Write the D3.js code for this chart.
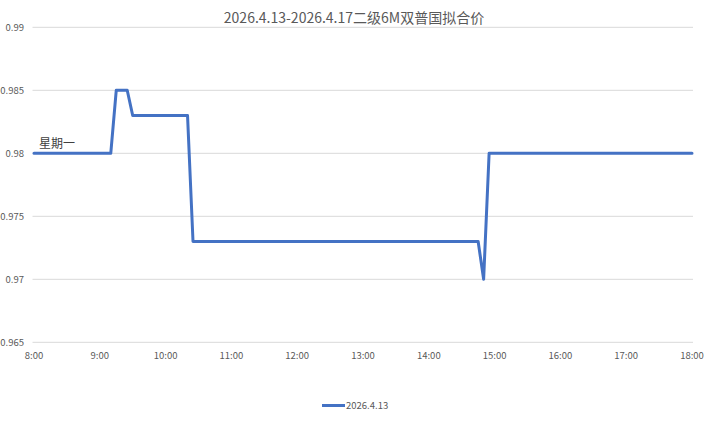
<!DOCTYPE html>
<html>
<head>
<meta charset="utf-8">
<script src="https://cdn.jsdelivr.net/npm/d3@7"></script>
<style>
  body { margin: 0; background: #fff; }
  text { font-family: "Noto Sans CJK SC", "Open Sans", sans-serif; }
</style>
</head>
<body>
<div id="chart"></div>
<script>
// minutes after midnight at 5-minute steps
var times = [480, 550, 555, 565, 570, 620, 625, 885, 890, 895, 1080];
var prices = [0.98, 0.98, 0.985, 0.985, 0.983, 0.983, 0.973, 0.973, 0.97, 0.98, 0.98];
var yTicks = [0.965, 0.97, 0.975, 0.98, 0.985, 0.99];
var xTicks = [480, 540, 600, 660, 720, 780, 840, 900, 960, 1020, 1080];
var title = "2026.4.13-2026.4.17二级6M双普国拟合价";
var seriesName = "2026.4.13";
var dayLabel = "星期一";

var width = 709, height = 421;
var svg = d3.select("#chart").append("svg")
  .attr("width", width)
  .attr("height", height);

var x = d3.scaleLinear().domain([480, 1080]).range([34, 692]);
var y = d3.scaleLinear().domain([0.965, 0.99]).range([342.3, 27.3]);

// gridlines
svg.append("g").selectAll("line")
  .data(yTicks)
  .enter().append("line")
  .attr("x1", 32.5)
  .attr("x2", 693)
  .attr("y1", function (d) { return y(d); })
  .attr("y2", function (d) { return y(d); })
  .attr("stroke", "#d9d9d9")
  .attr("stroke-width", 1);

// y labels
svg.append("g").selectAll("text")
  .data(yTicks)
  .enter().append("text")
  .attr("x", 24)
  .attr("y", function (d) { return y(d) + 3.5; })
  .attr("text-anchor", "end")
  .attr("font-size", 9.5)
  .attr("fill", "#595959")
  .text(function (d) { return d3.format("")(+d.toFixed(3)); });

// x labels
function fmtTime(m) {
  return Math.floor(m / 60) + ":" + d3.format("02d")(m % 60);
}
svg.append("g").selectAll("text")
  .data(xTicks)
  .enter().append("text")
  .attr("x", function (d) { return x(d); })
  .attr("y", 359)
  .attr("text-anchor", "middle")
  .attr("font-size", 9.5)
  .attr("fill", "#595959")
  .text(fmtTime);

var pts = times.map(function (t, i) { return [t, prices[i]]; });
var line = d3.line()
  .x(function (d) { return x(d[0]); })
  .y(function (d) { return y(d[1]); });

svg.append("path")
  .datum(pts)
  .attr("d", line)
  .attr("fill", "none")
  .attr("stroke", "#4472c4")
  .attr("stroke-width", 3)
  .attr("stroke-linejoin", "round")
  .attr("stroke-linecap", "round");

// data label on the first point
svg.append("text")
  .attr("x", x(times[0]) + 5)
  .attr("y", y(prices[0]) - 5)
  .attr("font-size", 12)
  .attr("fill", "#404040")
  .text(dayLabel);

// title
svg.append("text")
  .attr("x", 354)
  .attr("y", 23)
  .attr("text-anchor", "middle")
  .attr("font-size", 14)
  .attr("fill", "#595959")
  .text(title);

// legend
svg.append("line")
  .attr("x1", 322).attr("x2", 345)
  .attr("y1", 405.5).attr("y2", 405.5)
  .attr("stroke", "#4472c4")
  .attr("stroke-width", 3);
svg.append("text")
  .attr("x", 346)
  .attr("y", 409)
  .attr("font-size", 9.5)
  .attr("fill", "#595959")
  .text(seriesName);
</script>
</body>
</html>
